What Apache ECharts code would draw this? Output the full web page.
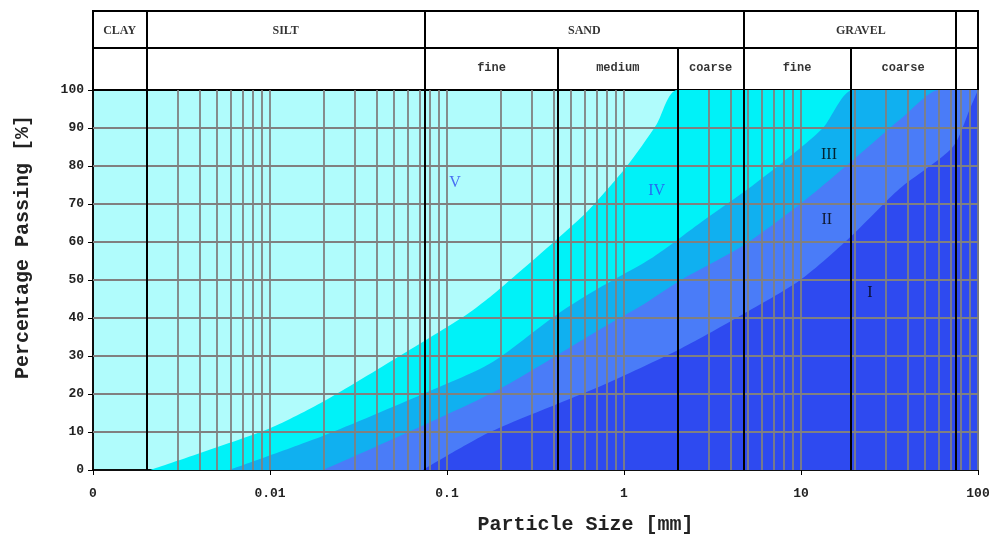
<!DOCTYPE html>
<html>
<head>
<meta charset="utf-8">
<script src="https://cdn.jsdelivr.net/npm/echarts@6/dist/echarts.min.js"></script>
<style>
  html, body { margin: 0; padding: 0; background: #fff; }
  #chart { width: 994px; height: 537px; }
</style>
</head>
<body>
<div id="chart"></div>
<script>
// zone boundary curves: [particle size mm, % passing]
const curveVIV = [[0.0021, 0], [0.01, 11], [0.02, 18], [0.054, 30], [0.13, 41], [0.175, 45.5], [0.227, 50], [0.38, 59], [0.62, 68], [1.04, 80], [1.53, 91], [2.0, 100], [100, 100]];
const curveIVIII = [[0.0059, 0], [0.02, 9], [0.073, 20], [0.175, 28], [0.42, 41], [0.73, 48], [1.46, 56], [2.69, 65], [4.7, 73], [7.9, 81], [13.3, 90], [19.7, 100], [100, 100]];
const curveIIIII = [[0.02, 0], [0.175, 20], [0.73, 37], [1.23, 43], [2.1, 50], [4.7, 59], [9.9, 70], [19.7, 81.6], [39, 93.5], [60, 100], [100, 100]];
const curveIII = [[0.073, 0], [0.175, 10], [0.73, 22], [2.1, 32], [4.7, 41], [9.9, 50], [19.7, 62], [36, 74], [72, 85], [90, 95], [100, 100]];

const zoneColors = ['#00f2f8', '#10b0f0', '#4a7cf8', '#2e4af0'];
const zoneCurves = [curveVIV, curveIVIII, curveIIIII, curveIII];

// zone labels
const zoneNames = ['V', 'IV', 'III', 'II', 'I'];
const zoneLabelPos = [[0.111, 75.5], [1.53, 73.5], [14.4, 83], [14.0, 65.8], [24.5, 46.6]];
const zoneLabelColors = ['#2e4af0', '#2e4af0', '#000', '#000', '#000'];

// soil classification boundaries (mm)
const fullBounds = [0.002, 0.075, 4.75, 75];
const subBounds = [0.425, 2, 19];
const mainClasses = [['CLAY', 0.001, 0.002], ['SILT', 0.002, 0.075], ['SAND', 0.075, 4.75], ['GRAVEL', 4.75, 100]];
const subClasses = [['fine', 0.075, 0.425], ['medium', 0.425, 2], ['coarse', 2, 4.75], ['fine', 4.75, 19], ['coarse', 19, 75]];

const yTicks = [10, 20, 30, 40, 50, 60, 70, 80, 90];

// log grid lines 2..10 per decade
const gridSizes = [];
[0.001, 0.01, 0.1, 1, 10].forEach(function (d) {
  for (let k = 2; k <= 10; k++) gridSizes.push(+(k * d).toPrecision(3));
});

const headerSplit = 1.07; // row divider of the header table
const chart = echarts.init(document.getElementById('chart'));
const gm = (a, b) => Math.sqrt(a * b);
const vline = (v, y0, y1) => [{ coord: [v, y0] }, { coord: [v, y1] }];

const series = [];
zoneCurves.forEach(function (c, i) {
  series.push({
    type: 'line',
    xAxisIndex: 0, yAxisIndex: 0,
    data: c,
    smooth: 0.25,
    showSymbol: false,
    lineStyle: { width: 0 },
    areaStyle: { color: zoneColors[i], opacity: 1 },
    silent: true,
    z: 2
  });
});

// grid lines over the areas
series.push({
  type: 'line', xAxisIndex: 0, yAxisIndex: 0, data: [], z: 3,
  markLine: {
    silent: true, symbol: ['none', 'none'], label: { show: false }, animation: false,
    lineStyle: { color: '#808080', width: 1.8, type: 'solid' },
    data: gridSizes.map(v => vline(v, 0, 100)).concat(yTicks.map(v => ({ yAxis: v })))
  }
});
// black classification lines in the plot
series.push({
  type: 'line', xAxisIndex: 0, yAxisIndex: 0, data: [], z: 4,
  markLine: {
    silent: true, symbol: ['none', 'none'], label: { show: false }, animation: false,
    lineStyle: { color: '#000', width: 2, type: 'solid' },
    data: fullBounds.concat(subBounds).map(v => vline(v, 0, 100))
  }
});
// zone labels
series.push({
  type: 'scatter', xAxisIndex: 0, yAxisIndex: 0, z: 5,
  symbolSize: 1, itemStyle: { color: 'transparent' }, silent: true,
  data: zoneNames.map((n, i) => ({
    name: n, value: zoneLabelPos[i],
    label: { color: zoneLabelColors[i] }
  })),
  label: {
    show: true, position: 'inside', formatter: p => p.name,
    fontFamily: 'Liberation Serif', fontSize: 16
  }
});

// header table
series.push({
  type: 'line', xAxisIndex: 1, yAxisIndex: 1, data: [],
  markLine: {
    silent: true, symbol: ['none', 'none'], label: { show: false }, animation: false,
    lineStyle: { color: '#000', width: 2, type: 'solid' },
    data: [{ yAxis: headerSplit }]
      .concat(fullBounds.map(v => vline(v, 0, 2)))
      .concat(subBounds.map(v => vline(v, 0, headerSplit)))
  }
});
series.push({
  type: 'scatter', xAxisIndex: 1, yAxisIndex: 1,
  symbolSize: 1, itemStyle: { color: 'transparent' }, silent: true,
  data: mainClasses.map(c => ({ name: c[0], value: [gm(c[1], c[2]), (headerSplit + 2) / 2 - 0.03] })),
  label: {
    show: true, position: 'inside', formatter: p => p.name,
    fontFamily: 'Liberation Serif', fontWeight: 'bold', fontSize: 12, color: '#000'
  }
});
series.push({
  type: 'scatter', xAxisIndex: 1, yAxisIndex: 1,
  symbolSize: 1, itemStyle: { color: 'transparent' }, silent: true,
  data: subClasses.map(c => ({ name: c[0], value: [gm(c[1], c[2]), headerSplit / 2 + 0.02] })),
  label: {
    show: true, position: 'inside', formatter: p => p.name,
    fontFamily: 'Liberation Mono', fontWeight: 'bold', fontSize: 12, color: '#000'
  }
});

const option = {
  animation: false,
  backgroundColor: '#fff',
  grid: [
    { left: 93, right: 16, top: 90, height: 380, outerBoundsMode: 'none', show: true, backgroundColor: '#b0fcfc', borderColor: '#000', borderWidth: 1.5 },
    { left: 93, right: 16, top: 11, height: 79, outerBoundsMode: 'none', show: true, backgroundColor: '#fff', borderColor: '#000', borderWidth: 2 }
  ],
  xAxis: [
    {
      type: 'log', gridIndex: 0, logBase: 10, min: 0.001, max: 100,
      name: 'Particle Size [mm]', nameLocation: 'middle', nameGap: 45,
      nameTextStyle: { fontFamily: 'Liberation Mono', fontWeight: 'bold', fontSize: 20, color: '#222', padding: [0, 0, 0, 100] },
      axisLine: { lineStyle: { color: '#000', width: 1.5 } },
      axisTick: { show: true, length: 5, lineStyle: { color: '#000' } },
      splitLine: { show: false },
      axisLabel: {
        margin: 17, fontFamily: 'Liberation Mono', fontWeight: 'bold', fontSize: 13, color: '#222',
        formatter: v => (v <= 0.0011 ? '0' : String(+v.toPrecision(3)))
      }
    },
    { type: 'log', gridIndex: 1, logBase: 10, min: 0.001, max: 100, show: false }
  ],
  yAxis: [
    {
      type: 'value', gridIndex: 0, min: 0, max: 100, interval: 10,
      name: 'Percentage Passing [%]', nameLocation: 'middle', nameGap: 60, nameRotate: 90,
      nameTextStyle: { fontFamily: 'Liberation Mono', fontWeight: 'bold', fontSize: 20, color: '#222', padding: [0, 0, 0, 66] },
      axisLine: { show: true, lineStyle: { color: '#000', width: 1.5 } },
      axisTick: { show: true, length: 5, lineStyle: { color: '#000' } },
      splitLine: { show: false },
      axisLabel: { margin: 9, fontFamily: 'Liberation Mono', fontWeight: 'bold', fontSize: 13, color: '#222' }
    },
    { type: 'value', gridIndex: 1, min: 0, max: 2, show: false }
  ],
  series: series
};

chart.setOption(option);
</script>
</body>
</html>
